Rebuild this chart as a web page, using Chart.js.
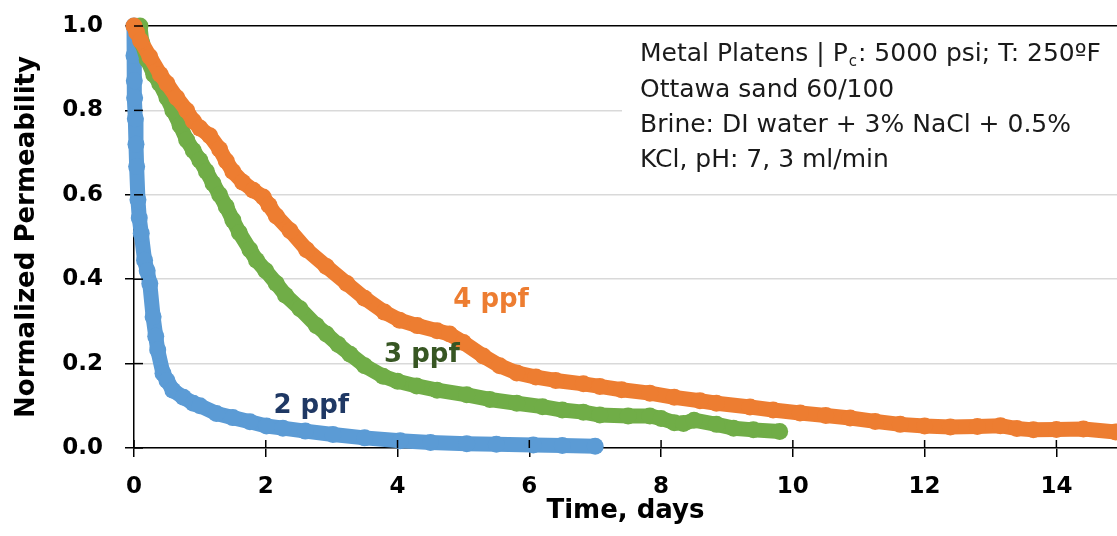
<!DOCTYPE html>
<html><head><meta charset="utf-8">
<script src="https://cdn.jsdelivr.net/npm/chart.js@4.4.0/dist/chart.umd.min.js"></script>
<style>html,body{margin:0;padding:0;background:#fff;overflow:hidden}#wrap{width:1117px;height:536px;position:relative}</style>
</head><body><div id="wrap"><canvas id="c"></canvas></div>
<script>
// ---- data ----
const seriesNames = ['4 ppf', '3 ppf', '2 ppf'];
const time4 = [0.00,0.04,0.10,0.24,0.40,0.50,0.65,0.80,0.90,1.00,1.15,1.30,1.40,1.50,1.65,1.81,1.96,2.05,2.16,2.37,2.62,2.92,3.23,3.50,3.80,4.03,4.30,4.60,4.79,5.00,5.30,5.55,5.81,6.10,6.40,6.82,7.07,7.40,7.83,8.20,8.59,8.84,9.35,9.70,10.11,10.50,10.87,11.25,11.63,12.00,12.39,12.80,13.15,13.40,13.65,14.00,14.41,14.90];
const perm4 = [1.000,0.985,0.965,0.927,0.885,0.864,0.830,0.800,0.775,0.758,0.740,0.708,0.680,0.655,0.630,0.611,0.595,0.575,0.550,0.515,0.470,0.430,0.390,0.355,0.322,0.303,0.290,0.278,0.270,0.250,0.218,0.195,0.178,0.168,0.160,0.152,0.146,0.138,0.130,0.120,0.112,0.106,0.097,0.090,0.083,0.077,0.071,0.063,0.056,0.052,0.050,0.051,0.053,0.046,0.043,0.044,0.045,0.038];
const time3 = [0.09,0.12,0.20,0.30,0.39,0.50,0.59,0.70,0.80,0.90,1.00,1.10,1.20,1.30,1.40,1.50,1.60,1.76,1.86,2.00,2.16,2.30,2.52,2.77,2.92,3.10,3.28,3.50,3.78,4.00,4.29,4.60,5.05,5.40,5.81,6.20,6.50,6.82,7.07,7.50,7.83,8.00,8.20,8.34,8.50,8.84,9.10,9.40,9.80];
const perm3 = [1.000,0.960,0.920,0.885,0.864,0.830,0.800,0.765,0.730,0.705,0.682,0.655,0.627,0.600,0.572,0.540,0.510,0.470,0.445,0.420,0.390,0.362,0.330,0.290,0.270,0.245,0.222,0.195,0.170,0.158,0.147,0.137,0.126,0.115,0.106,0.098,0.090,0.085,0.078,0.076,0.076,0.070,0.060,0.058,0.066,0.056,0.047,0.043,0.039];
const time2 = [0.000,0.000,0.005,0.010,0.020,0.030,0.040,0.060,0.080,0.110,0.160,0.200,0.240,0.290,0.330,0.360,0.440,0.500,0.590,0.750,0.900,1.000,1.250,1.500,1.760,2.010,2.260,2.600,3.020,3.500,4.040,4.500,5.050,5.500,6.060,6.500,7.000];
const perm2 = [1.000,0.930,0.870,0.830,0.780,0.720,0.667,0.588,0.545,0.509,0.445,0.420,0.390,0.311,0.265,0.232,0.177,0.160,0.137,0.120,0.106,0.100,0.082,0.072,0.062,0.052,0.047,0.040,0.032,0.024,0.017,0.013,0.010,0.009,0.007,0.006,0.004];
const xTicks = [0,2,4,6,8,10,12,14];
const yTicks = [0.0,0.2,0.4,0.6,0.8,1.0];
const noteLines = ['Metal Platens | P', 'Ottawa sand 60/100', 'Brine: DI water + 3% NaCl + 0.5%', 'KCl, pH: 7, 3 ml/min'];

const toPts = (t, v) => t.map((x, i) => ({x: x, y: v[i]}));
const colors = ['#ED7D31', '#70AD47', '#5B9BD5'];
const labelColors = ['#ED7D31', '#375623', '#1F3864'];
const labelPos = [[5.42, 0.35], [4.37, 0.22], [2.69, 0.10]];

function ds(i, t, v) {
  return {
    label: seriesNames[i], data: toPts(t, v), showLine: true,
    borderColor: colors[i], backgroundColor: colors[i], borderWidth: 15,
    borderCapStyle: 'round', borderJoinStyle: 'round',
    pointRadius: 8.5, pointHoverRadius: 8.5, pointBorderWidth: 0, tension: 0, clip: false
  };
}

const FONT = "'DejaVu Sans', sans-serif";

const overlay = {
  id: 'overlay',
  afterDraw(chart) {
    const ctx = chart.ctx, xs = chart.scales.x, ys = chart.scales.y;
    ctx.save();
    // inner tick marks
    ctx.strokeStyle = '#000'; ctx.lineWidth = 1.5;
    xTicks.forEach(t => { const p = xs.getPixelForValue(t); ctx.beginPath(); ctx.moveTo(p, ys.bottom); ctx.lineTo(p, ys.bottom - 8); ctx.stroke(); });
    yTicks.forEach(t => { const p = ys.getPixelForValue(t); ctx.beginPath(); ctx.moveTo(xs.left, p); ctx.lineTo(xs.left + 9, p); ctx.stroke(); });
    // series labels
    ctx.font = "bold 26px " + FONT; ctx.textAlign = 'center'; ctx.textBaseline = 'middle';
    seriesNames.forEach((s, i) => {
      ctx.fillStyle = labelColors[i];
      ctx.fillText(s, xs.getPixelForValue(labelPos[i][0]), ys.getPixelForValue(labelPos[i][1]));
    });
    // note box
    ctx.fillStyle = '#fff'; ctx.fillRect(622, 31, 495, 147);
    ctx.fillStyle = '#1a1a1a'; ctx.textAlign = 'left'; ctx.textBaseline = 'alphabetic';
    ctx.font = "25px " + FONT;
    const x0 = 640; const base = [61, 97, 132, 167];
    ctx.fillText(noteLines[0], x0, base[0]);
    let w = ctx.measureText(noteLines[0]).width;
    ctx.font = "15px " + FONT; ctx.fillText('c', x0 + w + 1, base[0] + 5);
    let w2 = ctx.measureText('c').width;
    ctx.font = "25px " + FONT; ctx.fillText(': 5000 psi; T: 250ºF', x0 + w + w2 + 2, base[0]);
    for (let i = 1; i < 4; i++) ctx.fillText(noteLines[i], x0, base[i]);
    ctx.restore();
  }
};

new Chart(document.getElementById('c'), {
  type: 'scatter',
  data: { datasets: [ds(0, time4, perm4), ds(1, time3, perm3), ds(2, time2, perm2)] },
  options: {
    responsive: true, maintainAspectRatio: false, animation: false, devicePixelRatio: 1,
    layout: { autoPadding: false, padding: { top: 26, right: 0, bottom: 0, left: 0 } },
    plugins: { legend: { display: false }, tooltip: { enabled: false } },
    scales: {
      x: {
        type: 'linear', min: 0, max: 14.92,
        afterFit: s => { s.height = 88; s.paddingLeft = 0; s.paddingRight = 0; },
        afterBuildTicks: s => { s.ticks = xTicks.map(v => ({value: v})); },
        ticks: { color: '#000', font: { family: FONT, size: 23, weight: 'bold' }, padding: 16, maxRotation: 0 },
        grid: { color: 'rgba(0,0,0,0)', tickColor: '#000', tickLength: 9, lineWidth: 1.5, tickWidth: 1.5 },
        border: { color: '#000', width: 1.5 },
        title: { display: true, text: 'Time, days', color: '#000', font: { family: FONT, size: 26, weight: 'bold' }, padding: { top: 0, bottom: 9 } }
      },
      y: {
        type: 'linear', min: 0, max: 1,
        afterFit: s => { s.width = 134; s.paddingTop = 0; s.paddingBottom = 0; },
        afterBuildTicks: s => { s.ticks = yTicks.map(v => ({value: v})); },
        ticks: { color: '#000', font: { family: FONT, size: 23, weight: 'bold' }, padding: 22, callback: v => v.toFixed(1) },
        grid: { color: c => (c.tick && c.tick.value === 1 ? '#000' : '#d9d9d9'), tickColor: '#000', tickLength: 9, lineWidth: 1.5, tickWidth: 1.5 },
        border: { color: '#000', width: 1.5 },
        title: { display: true, text: 'Normalized Permeability', color: '#000', font: { family: FONT, size: 26, weight: 'bold' }, padding: { top: 12, bottom: 0 } }
      }
    }
  },
  plugins: [overlay]
});
</script></body></html>
